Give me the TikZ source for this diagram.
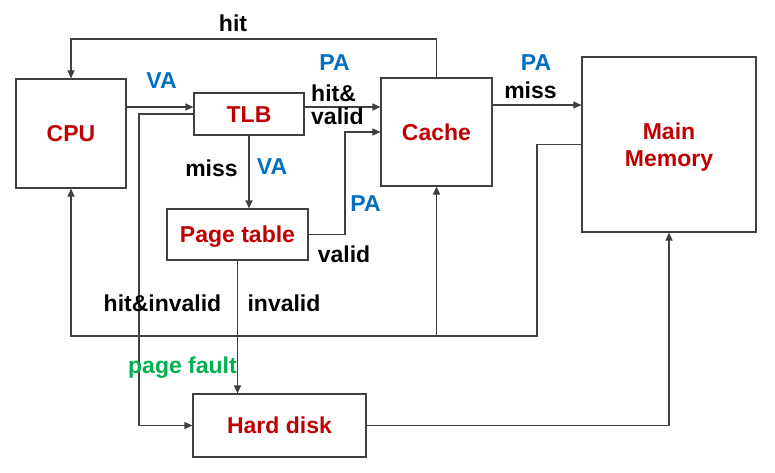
\documentclass[tikz,border=0pt]{standalone}
\usepackage{fontspec}
\setmainfont{Liberation Sans}
\usetikzlibrary{arrows.meta}
\definecolor{cred}{HTML}{C00000}
\definecolor{cblue}{HTML}{0070C0}
\definecolor{cgreen}{HTML}{00B050}
\definecolor{cline}{HTML}{404040}
\begin{document}
\begin{tikzpicture}[x=1pt,y=-1pt,
  box/.style={draw=cline, line width=1.1pt, inner sep=0pt, text=cred, align=center,
    font=\fontsize{23}{27.4}\selectfont\bfseries},
  cbox/.style={box, text height=16.5pt, text depth=0pt},
  lbl/.style={inner sep=0pt, anchor=base, font=\fontsize{23}{27}\selectfont\bfseries},
  lblw/.style={lbl, anchor=base west},
  wire/.style={draw=cline, line width=1.1pt},
  arr/.style={wire, -{Triangle[length=8pt,width=7pt]}}]
\useasboundingbox (0,0) rectangle (775,473);

% boxes
\node[cbox, minimum width=110pt, minimum height=109pt] (cpu)   at (71,133.5)   {CPU};
\node[cbox, minimum width=110pt, minimum height=42pt]  (tlb)   at (249,114)    {TLB};
\node[cbox, minimum width=141pt, minimum height=51pt]  (pt)    at (237.5,234.5){Page table};
\node[cbox, minimum width=111pt, minimum height=108pt] (cache) at (436.5,132)  {Cache};
\node[box, text depth=0pt, minimum width=174pt, minimum height=175pt] (mm) at (669,144.5) {Main\\Memory};
\node[cbox, minimum width=173pt, minimum height=63pt]  (hd)    at (279.5,425.5){Hard disk};

% helper coordinates
\coordinate (top) at (0,39);
\coordinate (ya)  at (0,107);
\coordinate (ym)  at (0,105);
\coordinate (yb)  at (0,336);
\coordinate (xl)  at (139,0);
\coordinate (xv)  at (345,0);
\coordinate (xr)  at (537,0);

% connectors
\draw[arr] (cache.north) -- (cache.north |- top) -- (cpu.north |- top) -- (cpu.north);
\draw[arr] (cpu.east |- ya) -- (tlb.west |- ya);
\draw[arr] (tlb.east |- ya) -- (cache.west |- ya);
\draw[arr] (tlb.west) -- (xl |- tlb.west) -- (xl |- hd.west) -- (hd.west);
\draw[arr] (tlb.south) -- (tlb.south |- pt.north);
\draw[arr] (pt.east) -- (xv |- pt.east) -- (xv |- cache.west) -- (cache.west);
\draw[arr] (pt.south) -- (pt.south |- hd.north);
\draw[arr] (cache.east |- ym) -- (mm.west |- ym);
\draw[arr] (mm.west) -- (xr |- mm.west) -- (xr |- yb) -- (cpu.south |- yb) -- (cpu.south);
\draw[arr] (cache.south |- yb) -- (cache.south);
\draw[arr] (hd.east) -| (mm.south);

% labels
\node[lbl] (lhit) at (233,32) {hit};
\node[lbl, text=cblue] (lva1) at (161.5,89) {VA};
\node[lbl, text=cblue] (lpa1) at (334.5,71) {PA};
\node[lblw] (lhv1) at (311,101.7) {hit\&};
\node[lblw] (lhv2) at (311,125) {valid};
\node[lbl] (lmiss1) at (211.5,176) {miss};
\node[lbl, text=cblue] (lva2) at (272,175) {VA};
\node[lbl, text=cblue] (lpa2) at (365.5,211.7) {PA};
\node[lbl] (lvalid) at (344,262) {valid};
\node[lbl, text=cblue] (lpa3) at (536,71) {PA};
\node[lbl] (lmiss2) at (530.5,99) {miss};
\node[lbl] (lhi) at (162.5,311.7) {hit\&invalid};
\node[lbl] (linv) at (284,311.7) {invalid};
\node[lbl, text=cgreen] (lpf) at (182.5,373) {page fault};
\end{tikzpicture}
\end{document}
